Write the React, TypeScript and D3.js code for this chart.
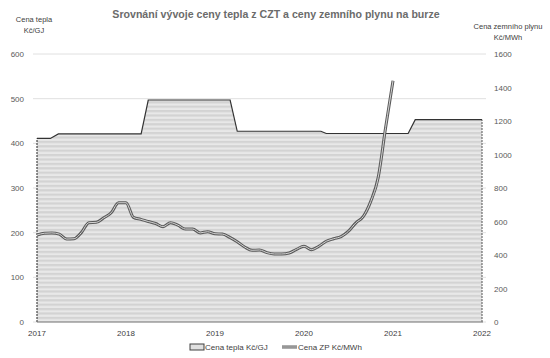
import React from "react";
import * as d3 from "d3";

// Heat price (Kč/GJ) – step series, dates in fractional years
const heatDates = [2017.0, 2017.15, 2017.24, 2018.17, 2018.25, 2019.17, 2019.25, 2020.19, 2020.25, 2021.17, 2021.25, 2022.0];
const heatValues = [411, 411, 421, 421, 497, 497, 427, 427, 422, 422, 453, 453];

// Gas price (Kč/MWh) – monthly from Jan 2017
const gasMonths = Array.from({ length: 49 }, (_, i) => i);
const gasValues = [
  519, 530, 532, 525, 495, 497, 535, 593, 595, 622, 652, 712,
  712, 625, 613, 600, 588, 569, 593, 578, 555, 555, 532, 539,
  527, 525, 505, 479, 448, 428, 430, 414, 406, 406, 412, 434,
  452, 432, 452, 482, 497, 510, 542, 592, 630, 720, 862, 1160,
  1440,
];

const yearTicks = [2017, 2018, 2019, 2020, 2021, 2022];
const leftTicks = [0, 100, 200, 300, 400, 500, 600];
const rightTicks = [0, 200, 400, 600, 800, 1000, 1200, 1400, 1600];

const title = "Srovnání vývoje ceny tepla z CZT a ceny zemního plynu na burze";
const leftTitle = ["Cena tepla", "Kč/GJ"];
const rightTitle = ["Cena zemního plynu", "Kč/MWh"];
const legendHeat = "Cena tepla Kč/GJ";
const legendGas = "Cena ZP Kč/MWh";

export default function App() {
  const W = 550, H = 358;
  const x = d3.scaleLinear().domain([2017, 2022]).range([37, 482]);
  const yL = d3.scaleLinear().domain([0, 600]).range([322, 54]);
  const yR = d3.scaleLinear().domain([0, 1600]).range([322, 54]);
  const font = "'Liberation Sans', Arial, sans-serif";

  const heatPts = heatDates.map((d, i) => [d, heatValues[i]] as [number, number]);
  const area = d3.area<[number, number]>().x(d => x(d[0])).y0(yL(0)).y1(d => yL(d[1]))(heatPts) || "";
  const topLine = d3.line<[number, number]>().x(d => x(d[0])).y(d => yL(d[1]))(heatPts) || "";
  const gasPts = gasMonths.map((m, i) => [2017 + m / 12, gasValues[i]] as [number, number]);
  const gasLine = d3.line<[number, number]>().x(d => x(d[0])).y(d => yR(d[1])).curve(d3.curveMonotoneX)(gasPts) || "";

  const first = heatPts[0], last = heatPts[heatPts.length - 1];

  return (
    <svg width={W} height={H} style={{ position: "absolute", left: 0, top: 0, background: "#fff" }} fontFamily={font}>
      <defs>
        <pattern id="stripes" width="8" height="4.4" patternUnits="userSpaceOnUse">
          <rect width="8" height="4.4" fill="#e8e8e8" />
          <rect width="8" height="2.2" fill="#d3d3d3" />
        </pattern>
      </defs>
      <rect width={W} height={H} fill="#fff" />
      <text x={276} y={18} textAnchor="middle" fontSize={10.6} fill="#6b6b6b" fontWeight={600}>{title}</text>
      <text x={34} y={22} textAnchor="middle" fontSize={7.5} fill="#404040">{leftTitle[0]}</text>
      <text x={34} y={33} textAnchor="middle" fontSize={7.5} fill="#404040">{leftTitle[1]}</text>
      <text x={508} y={29} textAnchor="middle" fontSize={7.5} fill="#404040">{rightTitle[0]}</text>
      <text x={508} y={40} textAnchor="middle" fontSize={7.5} fill="#404040">{rightTitle[1]}</text>

      {leftTicks.map(t => (
        <g key={"g" + t}>
          <line x1={33} x2={486} y1={yL(t)} y2={yL(t)} stroke="#e0e0e0" strokeWidth={1} />
          <text x={24} y={yL(t) + 3} textAnchor="end" fontSize={8} fill="#595959">{t}</text>
        </g>
      ))}
      {rightTicks.map(t => (
        <text key={"r" + t} x={494} y={yR(t) + 3} textAnchor="start" fontSize={8} fill="#595959">{t}</text>
      ))}

      <path d={area} fill="url(#stripes)" />
      <path d={topLine} fill="none" stroke="#333" strokeWidth={1.2} />
      <line x1={x(first[0])} x2={x(first[0])} y1={yL(0)} y2={yL(first[1])} stroke="#222" strokeWidth={1} strokeDasharray="2,1" />
      <line x1={x(last[0])} x2={x(last[0])} y1={yL(0)} y2={yL(last[1])} stroke="#555" strokeWidth={1} strokeDasharray="2,1" />

      <path d={gasLine} fill="none" stroke="#5a5a5a" strokeWidth={3} strokeLinejoin="round" />
      <path d={gasLine} fill="none" stroke="#d4d4d4" strokeWidth={1} strokeLinejoin="round" />

      <line x1={37} x2={483} y1={322} y2={322} stroke="#7f7f7f" strokeWidth={1} />
      {yearTicks.map(t => (
        <text key={"y" + t} x={x(t)} y={336} textAnchor="middle" fontSize={8} fill="#404040" fontWeight={500}>{t}</text>
      ))}

      <rect x={190} y={344} width={14} height={6} fill="#e0e0e0" stroke="#404040" strokeWidth={1} />
      <text x={205} y={350} fontSize={8} fill="#404040">{legendHeat}</text>
      <line x1={282} x2={297} y1={347} y2={347} stroke="#5a5a5a" strokeWidth={3} />
      <line x1={282} x2={297} y1={347} y2={347} stroke="#d4d4d4" strokeWidth={1} />
      <text x={298} y={350} fontSize={8} fill="#404040">{legendGas}</text>
    </svg>
  );
}
